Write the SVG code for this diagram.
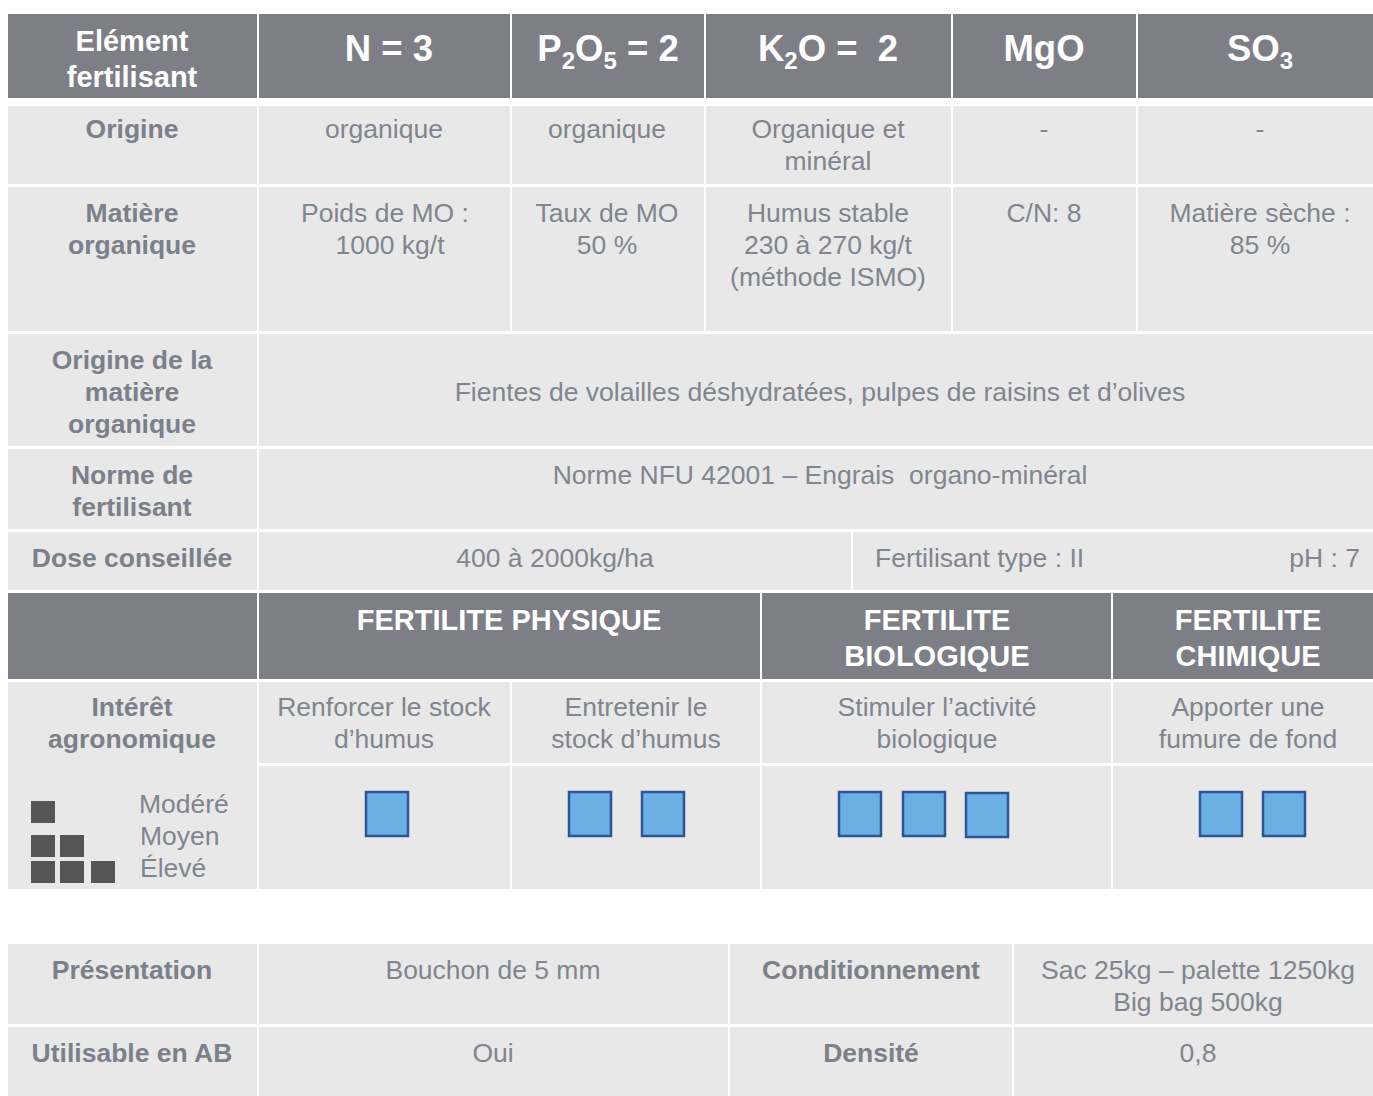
<svg xmlns="http://www.w3.org/2000/svg" width="1373" height="1096" viewBox="0 0 1373 1096">
<style>
.h{fill:#7e7e86}
.c{fill:#e8e8e8}
text{font-family:"Liberation Sans",Arial,sans-serif;text-anchor:middle}
.ht{fill:#ffffff;font-weight:bold;font-size:36.5px}
.hs{fill:#ffffff;font-weight:bold;font-size:29px}
.b{fill:#7b808b;font-weight:bold;font-size:26.5px}
.t{fill:#80858f;font-size:26.5px}
.sq{fill:#6ab0e4;stroke:#2f5597;stroke-width:2.5}
.lg{fill:#555555}
</style>
<rect width="1373" height="1096" fill="#ffffff"/>
<g id="header-row">
<rect class="h" x="8" y="14" width="249" height="84"/>
<rect class="h" x="259" y="14" width="251" height="84"/>
<rect class="h" x="512" y="14" width="192" height="84"/>
<rect class="h" x="706" y="14" width="245" height="84"/>
<rect class="h" x="953" y="14" width="183" height="84"/>
<rect class="h" x="1138" y="14" width="235" height="84"/>
<text class="hs" x="132" y="51">Elément</text>
<text class="hs" x="132" y="87">fertilisant</text>
<text class="ht" x="389" y="61">N = 3</text>
<text class="ht" x="608" y="61">P<tspan font-size="24" dy="8">2</tspan><tspan dy="-8">O</tspan><tspan font-size="24" dy="8">5</tspan><tspan dy="-8"> = 2</tspan></text>
<text class="ht" x="828" y="61" xml:space="preserve">K<tspan font-size="24" dy="8">2</tspan><tspan dy="-8">O =  2</tspan></text>
<text class="ht" x="1044" y="61">MgO</text>
<text class="ht" x="1260" y="61">SO<tspan font-size="24" dy="8">3</tspan></text>
</g>
<g id="row-origine">
<rect class="c" x="8" y="106" width="249" height="78"/>
<rect class="c" x="259" y="106" width="251" height="78"/>
<rect class="c" x="512" y="106" width="192" height="78"/>
<rect class="c" x="706" y="106" width="245" height="78"/>
<rect class="c" x="953" y="106" width="183" height="78"/>
<rect class="c" x="1138" y="106" width="235" height="78"/>
<text class="b" x="132" y="138">Origine</text>
<text class="t" x="384" y="138">organique</text>
<text class="t" x="607" y="138">organique</text>
<text class="t" x="828" y="138">Organique et</text>
<text class="t" x="828" y="170">minéral</text>
<text class="t" x="1044" y="138">-</text>
<text class="t" x="1260" y="138">-</text>
</g>
<g id="row-matiere">
<rect class="c" x="8" y="187" width="249" height="144"/>
<rect class="c" x="259" y="187" width="251" height="144"/>
<rect class="c" x="512" y="187" width="192" height="144"/>
<rect class="c" x="706" y="187" width="245" height="144"/>
<rect class="c" x="953" y="187" width="183" height="144"/>
<rect class="c" x="1138" y="187" width="235" height="144"/>
<text class="b" x="132" y="222">Matière</text>
<text class="b" x="132" y="254">organique</text>
<text class="t" x="385" y="222">Poids de MO :</text>
<text class="t" x="390" y="254">1000 kg/t</text>
<text class="t" x="607" y="222">Taux de MO</text>
<text class="t" x="607" y="254">50 %</text>
<text class="t" x="828" y="222">Humus stable</text>
<text class="t" x="828" y="254">230 à 270 kg/t</text>
<text class="t" x="828" y="286">(méthode ISMO)</text>
<text class="t" x="1044" y="222">C/N: 8</text>
<text class="t" x="1260" y="222">Matière sèche :</text>
<text class="t" x="1260" y="254">85 %</text>
</g>
<g id="row-origine-mo">
<rect class="c" x="8" y="334" width="249" height="112"/>
<rect class="c" x="259" y="334" width="1114" height="112"/>
<text class="b" x="132" y="369">Origine de la</text>
<text class="b" x="132" y="401">matière</text>
<text class="b" x="132" y="433">organique</text>
<text class="t" x="820" y="401">Fientes de volailles déshydratées, pulpes de raisins et d’olives</text>
</g>
<g id="row-norme">
<rect class="c" x="8" y="449" width="249" height="80"/>
<rect class="c" x="259" y="449" width="1114" height="80"/>
<text class="b" x="132" y="484">Norme de</text>
<text class="b" x="132" y="516">fertilisant</text>
<text class="t" x="820" y="484" xml:space="preserve">Norme NFU 42001 – Engrais  organo-minéral</text>
</g>
<g id="row-dose">
<rect class="c" x="8" y="532" width="249" height="58"/>
<rect class="c" x="259" y="532" width="592" height="58"/>
<rect class="c" x="853" y="532" width="520" height="58"/>
<text class="b" x="132" y="567">Dose conseillée</text>
<text class="t" x="555" y="567">400 à 2000kg/ha</text>
<text class="t" x="875" y="567" style="text-anchor:start">Fertilisant type : II</text>
<text class="t" x="1360" y="567" style="text-anchor:end">pH : 7</text>
</g>
<g id="header-fertilite">
<rect class="h" x="8" y="593" width="249" height="86"/>
<rect class="h" x="259" y="593" width="501" height="86"/>
<rect class="h" x="762" y="593" width="349" height="86"/>
<rect class="h" x="1113" y="593" width="260" height="86"/>
<text class="hs" x="509" y="630">FERTILITE PHYSIQUE</text>
<text class="hs" x="937" y="630">FERTILITE</text>
<text class="hs" x="937" y="666">BIOLOGIQUE</text>
<text class="hs" x="1248" y="630">FERTILITE</text>
<text class="hs" x="1248" y="666">CHIMIQUE</text>
</g>
<g id="row-interet">
<rect class="c" x="8" y="682" width="249" height="207"/>
<rect class="c" x="259" y="682" width="251" height="81"/>
<rect class="c" x="512" y="682" width="248" height="81"/>
<rect class="c" x="762" y="682" width="349" height="81"/>
<rect class="c" x="1113" y="682" width="260" height="81"/>
<text class="b" x="132" y="716">Intérêt</text>
<text class="b" x="132" y="748">agronomique</text>
<text class="t" x="384" y="716">Renforcer le stock</text>
<text class="t" x="384" y="748">d’humus</text>
<text class="t" x="636" y="716">Entretenir le</text>
<text class="t" x="636" y="748">stock d’humus</text>
<text class="t" x="937" y="716">Stimuler l’activité</text>
<text class="t" x="937" y="748">biologique</text>
<text class="t" x="1248" y="716">Apporter une</text>
<text class="t" x="1248" y="748">fumure de fond</text>
</g>
<g id="legend">
<rect class="lg" x="31" y="801" width="24" height="22"/>
<rect class="lg" x="31" y="835" width="24" height="22"/>
<rect class="lg" x="60" y="835" width="24" height="22"/>
<rect class="lg" x="31" y="861" width="24" height="22"/>
<rect class="lg" x="60" y="861" width="24" height="22"/>
<rect class="lg" x="91" y="861" width="24" height="22"/>
<text class="t" x="139" y="813" style="text-anchor:start">Modéré</text>
<text class="t" x="140" y="845" style="text-anchor:start">Moyen</text>
<text class="t" x="140" y="877" style="text-anchor:start">Élevé</text>
</g>
<g id="row-niveau">
<rect class="c" x="259" y="766" width="251" height="123"/>
<rect class="c" x="512" y="766" width="248" height="123"/>
<rect class="c" x="762" y="766" width="349" height="123"/>
<rect class="c" x="1113" y="766" width="260" height="123"/>
<rect class="sq" x="366" y="792" width="42" height="44"/>
<rect class="sq" x="569" y="792" width="42" height="44"/>
<rect class="sq" x="642" y="792" width="42" height="44"/>
<rect class="sq" x="839" y="792" width="42" height="44"/>
<rect class="sq" x="903" y="792" width="42" height="44"/>
<rect class="sq" x="966" y="793" width="42" height="44"/>
<rect class="sq" x="1200" y="792" width="42" height="44"/>
<rect class="sq" x="1263" y="792" width="42" height="44"/>
</g>
<g id="bottom-table">
<rect class="c" x="8" y="944" width="249" height="80"/>
<rect class="c" x="259" y="944" width="469" height="80"/>
<rect class="c" x="730" y="944" width="282" height="80"/>
<rect class="c" x="1014" y="944" width="359" height="80"/>
<rect class="c" x="8" y="1027" width="249" height="69"/>
<rect class="c" x="259" y="1027" width="469" height="69"/>
<rect class="c" x="730" y="1027" width="282" height="69"/>
<rect class="c" x="1014" y="1027" width="359" height="69"/>
<text class="b" x="132" y="979">Présentation</text>
<text class="t" x="493" y="979">Bouchon de 5 mm</text>
<text class="b" x="871" y="979">Conditionnement</text>
<text class="t" x="1198" y="979">Sac 25kg – palette 1250kg</text>
<text class="t" x="1198" y="1011">Big bag 500kg</text>
<text class="b" x="132" y="1062">Utilisable en AB</text>
<text class="t" x="493" y="1062">Oui</text>
<text class="b" x="871" y="1062">Densité</text>
<text class="t" x="1198" y="1062">0,8</text>
</g>
</svg>
